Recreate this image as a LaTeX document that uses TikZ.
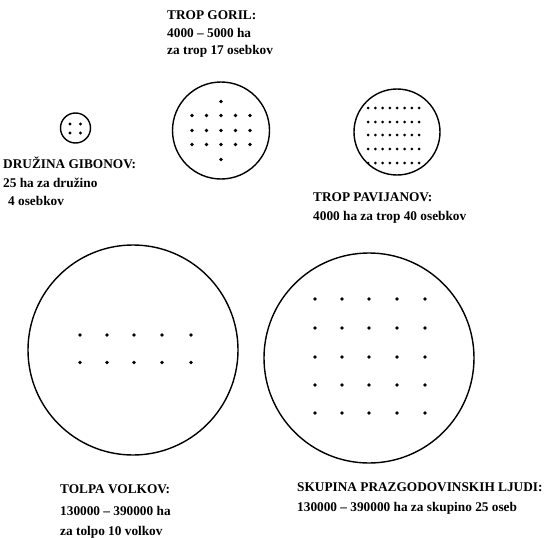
\documentclass[tikz,border=0pt]{standalone}
\usepackage{fontspec}
\setmainfont{Liberation Serif}
\begin{document}
\begin{tikzpicture}[x=1pt,y=-1pt,
  ring/.style={draw, line width=1.4pt},
  bigdot/.style={fill=black},
  lbl/.style={anchor=west, inner sep=0pt, font=\bfseries\fontsize{13.3}{16}\selectfont}]
\useasboundingbox (0,0) rectangle (555,538);

% gibbons
\draw[ring] (75.5,128) circle (15);
\foreach \x/\y in {70/124, 80.5/124, 70/133, 80.5/133}
  \fill[bigdot] (\x,\y) circle (1.7);
\node[lbl] (gib1) at (3,163) {DRUŽINA GIBONOV:};
\node[lbl] (gib2) at (3,183) {25 ha za družino};
\node[lbl] (gib3) at (8,201) {4 osebkov};

% gorillas
\draw[ring] (221,130.5) circle (48.5);
\fill[bigdot] (221,101.5) circle (1.8);
\fill[bigdot] (221,159.5) circle (1.8);
\foreach \y in {115.5,130.5,144.5}
  \foreach \x in {192,206.5,221,235.5,250}
    \fill[bigdot] (\x,\y) circle (1.8);
\node[lbl] (gor1) at (167,15) {TROP GORIL:};
\node[lbl] (gor2) at (167,33) {4000 – 5000 ha};
\node[lbl] (gor3) at (167,51) {za trop 17 osebkov};

% baboons
\draw[ring] (397,132) circle (43);
\foreach \y in {108,122,135,149,163}
  \foreach \i in {0,...,7}
    \fill[bigdot] (368+7.3*\i,\y) circle (1.5);
\node[lbl] (bab1) at (313,197) {TROP PAVIJANOV:};
\node[lbl] (bab2) at (313,217) {4000 ha za trop 40 osebkov};

% wolves
\draw[ring] (133,350) circle (105);
\foreach \y in {335,362.5}
  \foreach \x in {80,107,134,162,191}
    \fill[bigdot] (\x,\y) circle (1.9);
\node[lbl] (wol1) at (60,489) {TOLPA VOLKOV:};
\node[lbl] (wol2) at (60,511) {130000 – 390000 ha};
\node[lbl] (wol3) at (60,532) {za tolpo 10 volkov};

% prehistoric humans
\draw[ring] (369,358) circle (105);
\foreach \y in {299,328,357,385,413}
  \foreach \x in {315,342,369,397,425}
    \fill[bigdot] (\x,\y) circle (1.9);
\node[lbl] (hum1) at (297,487) {SKUPINA PRAZGODOVINSKIH LJUDI:};
\node[lbl] (hum2) at (297,508) {130000 – 390000 ha za skupino 25 oseb};
\end{tikzpicture}
\end{document}
